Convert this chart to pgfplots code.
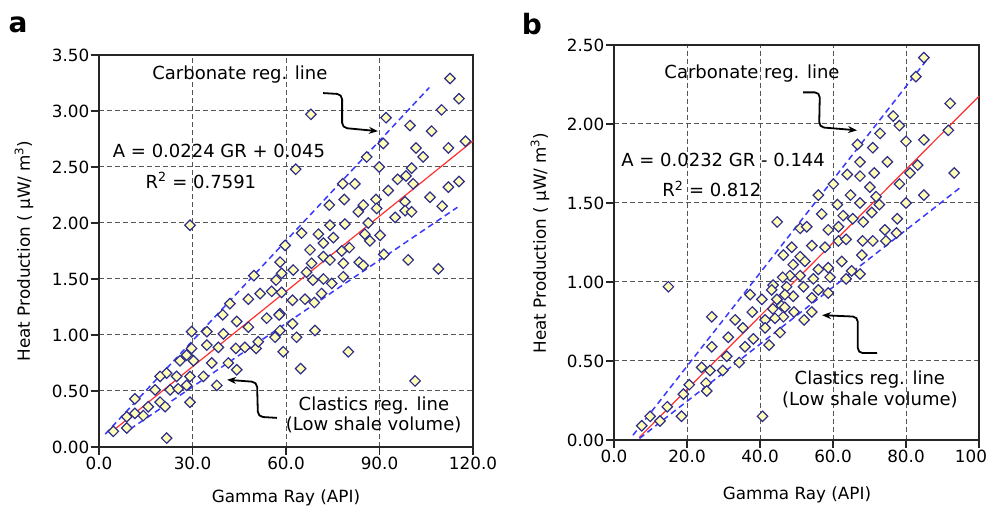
\documentclass[border=0pt]{standalone}
\usepackage{pgfplots}
\pgfplotsset{compat=1.18}
\usepackage{fontspec}
\setmainfont{DejaVu Sans}
\usetikzlibrary{arrows.meta}

\definecolor{mkedge}{HTML}{2E2E8A}
\definecolor{mkfill}{HTML}{FFFFB8}
\definecolor{dashblue}{HTML}{3838FF}
\definecolor{regred}{HTML}{FF3030}
\definecolor{gridgray}{HTML}{555555}

\pgfplotsset{
 myax/.style={
  scale only axis, anchor=south west,
  axis line style={line width=1.5pt, black!85},
  grid=major, major grid style={gridgray, line width=1pt, dash pattern=on 4.5pt off 3.5pt},
  tick align=outside, xtick pos=bottom, ytick pos=left, major tick length=8pt,
  tick style={line width=1.2pt, black!85},
  tick label style={font=\fontsize{16.8}{20}\selectfont},
  /pgf/number format/assume math mode=true,
  yticklabel style={/pgf/number format/fixed, /pgf/number format/fixed zerofill, /pgf/number format/precision=2, inner sep=1.5pt},
  xticklabel style={/pgf/number format/fixed, /pgf/number format/fixed zerofill, /pgf/number format/precision=1, inner sep=2pt},
  clip=false,
 },
 pts/.style={only marks, mark=square*, mark size=3.7pt, mark options={rotate=45, draw=mkedge, fill=mkfill, line width=1.2pt}},
 dline/.style={dashblue, line width=1.5pt, dash pattern=on 6pt off 4pt},
 rline/.style={regred, line width=1.2pt},
}
\newcommand{\ann}{\fontsize{18}{21}\selectfont}
\newcommand{\lab}{\fontsize{16.8}{20}\selectfont}

\begin{document}
\begin{tikzpicture}
\useasboundingbox (0,0) rectangle (988pt,508pt);

% ---------------- panel a ----------------
\begin{axis}[myax, at={(99pt,61pt)}, width=374pt, height=392pt,
  xmin=0, xmax=120, ymin=0, ymax=3.5,
  xtick={0,30,60,90,120}, ytick={0,0.5,1,1.5,2,2.5,3,3.5}]
\addplot[pts] table {
x y
29.2 1.98
112.6 3.29
115.5 3.11
109.9 3.01
68.0 2.97
92.1 2.94
99.8 2.87
106.7 2.82
91.2 2.71
117.6 2.73
101.7 2.67
112.1 2.67
85.9 2.59
104.0 2.59
63.1 2.48
89.9 2.50
100.3 2.49
78.2 2.35
82.1 2.35
95.8 2.39
98.5 2.42
100.8 2.35
112.1 2.32
115.5 2.37
92.8 2.29
73.9 2.16
78.7 2.21
88.9 2.21
84.8 2.16
83.2 2.10
89.1 2.13
98.2 2.19
106.2 2.23
110.1 2.15
98.2 2.11
100.3 2.10
95.0 2.05
86.4 2.00
65.0 1.91
70.4 1.90
74.1 1.98
78.9 1.99
75.2 1.87
85.3 1.90
90.2 1.89
59.7 1.80
67.7 1.76
72.0 1.82
77.9 1.75
80.3 1.78
86.9 1.84
72.0 1.70
74.1 1.67
68.2 1.64
78.4 1.64
83.5 1.65
84.8 1.62
91.4 1.72
99.2 1.67
108.9 1.59
62.3 1.58
66.6 1.56
58.6 1.55
68.6 1.49
72.0 1.50
78.4 1.52
74.7 1.46
62.1 1.31
66.1 1.32
69.1 1.29
71.4 1.37
58.1 1.19
62.1 1.10
63.4 0.98
69.3 1.04
59.1 0.85
80.0 0.85
64.7 0.70
101.4 0.59
58.1 1.65
49.7 1.53
56.8 1.49
51.7 1.37
55.4 1.39
58.6 1.38
47.9 1.32
42.0 1.28
39.7 1.18
44.2 1.12
47.9 1.07
53.8 1.15
57.8 1.18
58.1 1.04
56.5 0.98
50.4 0.88
51.1 0.94
34.6 1.03
29.7 1.03
39.9 1.01
34.6 0.91
38.3 0.89
43.9 0.88
46.8 0.89
29.7 0.88
28.1 0.82
26.0 0.77
30.3 0.77
36.2 0.75
41.5 0.75
44.2 0.69
21.7 0.66
19.6 0.63
24.9 0.63
29.2 0.63
33.5 0.63
28.1 0.55
37.8 0.55
18.0 0.51
22.8 0.51
25.4 0.52
11.5 0.43
15.8 0.36
19.6 0.40
21.2 0.36
29.2 0.40
14.2 0.28
11.5 0.30
8.9 0.27
8.9 0.17
4.6 0.14
21.7 0.08
};
\addplot[rline] coordinates {(4,0.1346) (120,2.733)};
\addplot[dline] coordinates {(2,0.115) (106,3.21)};
\addplot[dline] coordinates {(10,0.16) (115,2.14)};
\node[font=\ann] at (axis cs:45.2,3.33) {Carbonate reg. line};
\node[font=\ann] at (axis cs:38.5,2.64) {A = 0.0224 GR + 0.045};
\node[font=\ann] at (axis cs:32.7,2.38) {R\textsuperscript{2} = 0.7591};
\node[font=\ann] at (axis cs:88.2,0.374) {Clastics reg. line};
\node[font=\ann] at (axis cs:88.1,0.196) {(Low shale volume)};
\draw[line width=1.8pt, rounded corners=5pt, -{Stealth[length=9pt,width=7pt]}]
  (axis cs:71.9,3.16) -- (axis cs:78,3.15) -- (axis cs:78,2.85) -- (axis cs:89.5,2.82);
\draw[line width=1.8pt, rounded corners=5pt, {Stealth[length=9pt,width=7pt]}-]
  (axis cs:41.1,0.60) -- (axis cs:50.7,0.58) -- (axis cs:51.0,0.27) -- (axis cs:57.1,0.26);
\end{axis}

% ---------------- panel b ----------------
\begin{axis}[myax, at={(614pt,68pt)}, width=365pt, height=395pt,
  xmin=0, xmax=100, ymin=0, ymax=2.5,
  xtick={0,20,40,60,80,100}, ytick={0,0.5,1,1.5,2,2.5}]
\addplot[pts] table {
x y
84.9 2.42
82.7 2.30
92.1 2.13
76.5 2.05
78.2 1.99
91.6 1.96
72.9 1.94
66.7 1.87
70.9 1.85
80.0 1.89
84.9 1.90
67.4 1.76
74.9 1.76
63.9 1.68
67.4 1.67
71.3 1.69
81.1 1.69
83.2 1.74
93.2 1.69
60.1 1.62
70.1 1.60
78.2 1.62
56.0 1.55
64.8 1.55
71.8 1.54
84.9 1.55
61.2 1.49
67.4 1.50
72.7 1.49
80.0 1.50
56.9 1.43
62.8 1.42
70.6 1.44
51.0 1.34
52.8 1.35
58.7 1.33
61.5 1.35
65.4 1.40
68.3 1.38
77.6 1.40
74.2 1.33
44.7 1.38
54.2 1.23
57.8 1.22
61.5 1.26
63.6 1.27
68.1 1.26
70.9 1.26
74.5 1.26
77.4 1.31
48.7 1.22
46.4 1.17
51.0 1.16
67.9 1.17
49.1 1.11
52.3 1.13
56.0 1.08
58.7 1.09
62.4 1.13
65.1 1.07
67.4 1.05
48.2 1.04
51.0 1.04
54.6 1.02
59.2 1.03
63.6 1.02
47.3 0.97
51.9 0.97
56.0 0.95
58.7 0.93
54.2 0.90
49.1 0.91
45.9 0.85
49.3 0.81
54.2 0.81
52.1 0.76
46.4 0.78
45.5 0.68
14.9 0.97
43.6 0.98
46.2 1.03
37.3 0.92
40.5 0.89
43.2 0.95
44.6 0.89
46.8 0.84
43.5 0.83
46.8 0.92
26.8 0.78
33.2 0.76
37.9 0.81
41.4 0.76
44.1 0.77
35.3 0.71
31.3 0.65
41.4 0.71
26.8 0.59
35.9 0.59
38.2 0.64
42.5 0.60
30.9 0.53
24.0 0.46
26.3 0.44
29.8 0.44
34.3 0.49
25.2 0.36
25.4 0.31
20.6 0.35
19.0 0.29
14.6 0.21
18.5 0.15
12.6 0.12
9.9 0.15
7.6 0.09
40.7 0.15
};
\addplot[rline] coordinates {(6.9,0.016) (100,2.176)};
\addplot[dline] coordinates {(5.2,0.03) (85.5,2.40)};
\addplot[dline] coordinates {(7,0.01) (95,1.60)};
\node[font=\ann] at (axis cs:37.8,2.32) {Carbonate reg. line};
\node[font=\ann] at (axis cs:29.9,1.77) {A = 0.0232 GR - 0.144};
\node[font=\ann] at (axis cs:26.8,1.59) {R\textsuperscript{2} = 0.812};
\node[font=\ann] at (axis cs:70.1,0.38) {Clastics reg. line};
\node[font=\ann] at (axis cs:70.1,0.253) {(Low shale volume)};
\draw[line width=1.8pt, rounded corners=5pt, -{Stealth[length=9pt,width=7pt]}]
  (axis cs:51.8,2.20) -- (axis cs:56.4,2.20) -- (axis cs:56.2,1.98) -- (axis cs:66.6,1.96);
\draw[line width=1.8pt, rounded corners=5pt, {Stealth[length=9pt,width=7pt]}-]
  (axis cs:57.0,0.79) -- (axis cs:66.8,0.78) -- (axis cs:66.8,0.55) -- (axis cs:72.1,0.55);
\end{axis}

% labels
\node[font=\lab] at (286pt,10pt) {Gamma Ray (API)};
\node[font=\lab] at (797pt,13pt) {Gamma Ray (API)};
\node[font=\lab, rotate=90] at (24pt,257pt) {Heat Production ( μW/ m\textsuperscript{3})};
\node[font=\lab, rotate=90] at (540pt,265pt) {Heat Production ( μW/ m\textsuperscript{3})};
\node[font=\bfseries\fontsize{28}{30}\selectfont] at (18pt,483pt) {a};
\node[font=\bfseries\fontsize{28}{30}\selectfont] at (532pt,484pt) {b};
\end{tikzpicture}
\end{document}
